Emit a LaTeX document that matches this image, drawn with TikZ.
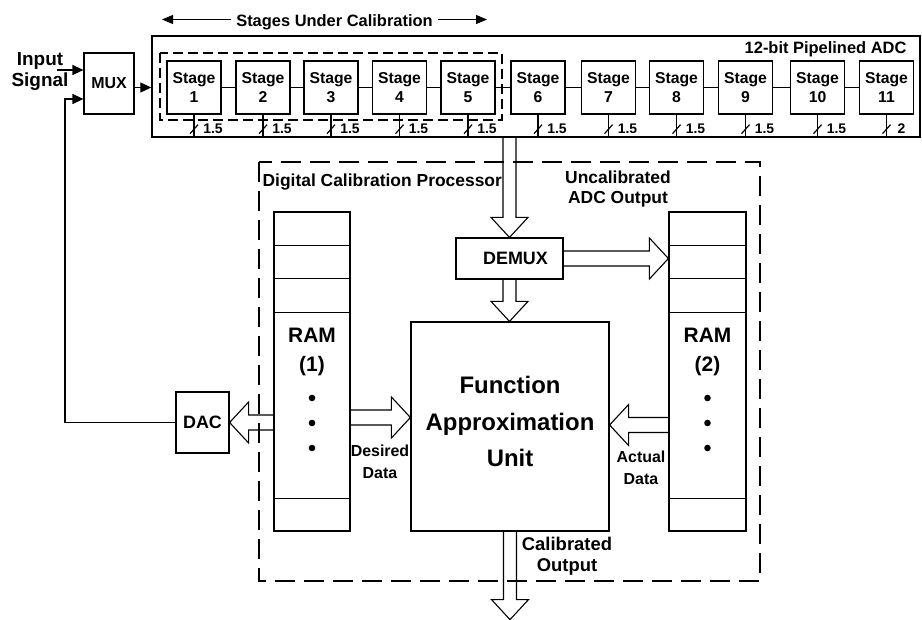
\documentclass[tikz,border=0pt]{standalone}
\usepackage{fontspec}
\setmainfont{Liberation Sans}
\usetikzlibrary{arrows.meta,calc}
\newcommand\fs[2]{\fontsize{#1}{#2}\selectfont}
\newcommand\blkD[2]{\draw[blk] let \p1=(#1),\p2=(#2) in (\x1-6.5bp,\y1) -- (\x1-6.5bp,\y2+20bp) -- (\x1-18.5bp,\y2+20bp) -- (\x1,\y2) -- (\x1+18.5bp,\y2+20bp) -- (\x1+6.5bp,\y2+20bp) -- (\x1+6.5bp,\y1);}
\newcommand\blkR[2]{\draw[blk] let \p1=(#1),\p2=(#2) in (\x1,\y1+7.5bp) -- (\x2-19bp,\y1+7.5bp) -- (\x2-19bp,\y1+20.5bp) -- (\x2,\y1) -- (\x2-19bp,\y1-20.5bp) -- (\x2-19bp,\y1-7.5bp) -- (\x1,\y1-7.5bp);}
\newcommand\blkL[2]{\draw[blk] let \p1=(#1),\p2=(#2) in (\x1,\y1+7.5bp) -- (\x2+19bp,\y1+7.5bp) -- (\x2+19bp,\y1+20.5bp) -- (\x2,\y1) -- (\x2+19bp,\y1-20.5bp) -- (\x2+19bp,\y1-7.5bp) -- (\x1,\y1-7.5bp);}
\begin{document}
\begin{tikzpicture}[x=1bp,y=-1bp,line width=1.2bp,
  every node/.style={font=\bfseries, inner sep=0pt},
  stagebox/.style={draw, minimum width=54bp, minimum height=53bp, align=center, font=\bfseries\fs{15.8}{18.5}},
  arrowtip/.style={-{Triangle[length=11bp,width=10bp]}},
  thintip/.style={-{Triangle[length=11bp,width=9bp]}, line width=1bp},
  blk/.style={draw, line width=1.1bp, line join=miter},
  grpdash/.style={dash pattern=on 10bp off 5bp, line width=1.2bp},
  dcpdash/.style={dash pattern=on 20bp off 9bp, line width=2.3bp},
  bits/.style={font=\bfseries\fs{14}{16}}
]
\useasboundingbox (0,0) rectangle (922,620);

% ---- pipelined ADC ----
\node[draw, line width=1.4bp, minimum width=768bp, minimum height=101bp] (adc) at (536,86.5) {};
\node[anchor=base east, font=\bfseries\fs{16.5}{20}] (adctitle) at (907,54) {12-bit Pipelined ADC};
\foreach \i/\x in {1/194,2/263,3/331,4/399.5,5/468,6/538,7/608.5,8/676.5,9/745.5,10/817.5,11/886.5}
  \node[stagebox] (s\i) at (\x,87.5) {Stage\\\i};
\foreach \i [evaluate=\i as \j using int(\i+1)] in {1,...,10}
  \draw (s\i.east) -- (s\j.west);
\foreach \i in {1,...,11}{
  \coordinate (b\i) at (s\i.south |- adc.south);
  \draw (s\i.south) -- (b\i);
  \draw ([shift={(-4,-4)}]b\i) -- ++(8,-9);
}
\foreach \i in {1,...,10}
  \node[bits] at ([shift={(19,-9)}]b\i) {1.5};
\node[bits] at ([shift={(15,-9)}]b11) {2};
\draw[grpdash] (160,53) rectangle (502,120);

\node[anchor=base, font=\bfseries\fs{16.5}{20}, inner xsep=5bp] (suc) at (334.5,27) {Stages Under Calibration};
\coordinate (sucL) at (162,19.5);
\coordinate (sucR) at (487,19.5);
\draw[thintip] (suc.west |- sucL) -- (sucL);
\draw[thintip] (suc.east |- sucR) -- (sucR);

% ---- MUX and input ----
\node[draw, minimum width=50bp, minimum height=61bp, font=\bfseries\fs{16}{19}] (mux) at (109,83.5) {MUX};
\node[align=center, font=\bfseries\fs{19}{22}] (insig) at (40,71.5) {Input\\Signal};
\coordinate (inS) at (57,70);
\draw[arrowtip] (inS) -- (inS -| mux.west);
\draw[arrowtip] (mux.east |- s1) -- (adc.west |- s1);

% ---- calibration processor ----
\node[anchor=base west, font=\bfseries\fs{17.5}{20}] (dcptitle) at (262,187) {Digital Calibration Processor};
\node[align=center, font=\bfseries\fs{17.5}{20}] (uncal) at (618,189) {Uncalibrated\\ADC Output};

\node[draw, minimum width=107bp, minimum height=41bp, font=\bfseries\fs{18}{21}] (demux) at (509.5,258.5) {\hspace*{12bp}DEMUX};
\node[draw, minimum width=198bp, minimum height=209bp] (fau) at (510,426.5) {};
\node[align=center, font=\bfseries\fs{24}{36.5}] (fautxt) at (510,421.5) {Function\\Approximation\\Unit};

\node[draw, minimum width=76bp, minimum height=319bp] (ram1) at (312,371.5) {};
\node[draw, minimum width=77bp, minimum height=319bp] (ram2) at (707.5,371.5) {};
\foreach \r in {ram1,ram2}{
  \foreach \o in {34,67,101}
    \draw ([yshift=-\o bp]\r.north west) -- ([yshift=-\o bp]\r.north east);
  \draw ([yshift=33bp]\r.south west) -- ([yshift=33bp]\r.south east);
}
\node[align=center, font=\bfseries\fs{21}{29}] (ram1txt) at (312,352) {RAM\\(1)};
\node[align=center, font=\bfseries\fs{21}{29}] (ram2txt) at (707.5,352) {RAM\\(2)};
\foreach \y in {398,423,448}{
  \fill (312,\y) circle (3.3bp);
  \fill (707.5,\y) circle (3.3bp);
}

\node[draw, minimum width=53bp, minimum height=61bp, font=\bfseries\fs{18}{21}] (dac) at (202.5,422.5) {DAC};
\coordinate (fb) at (65,99);
\draw[arrowtip] (dac.west) -| (fb) -- (fb -| mux.west);

\node[align=center, font=\bfseries\fs{16}{22}] (des) at (380,462) {Desired\\Data};
\node[align=center, font=\bfseries\fs{16}{22}] (act) at (641,468) {Actual\\Data};
\node[align=center, font=\bfseries\fs{18.5}{21}] (calo) at (567,556) {Calibrated\\Output};

% ---- block arrows ----
\blkD{demux.north |- adc.south}{demux.north}
\blkD{demux.south}{fau.north}
\blkR{demux.east}{demux.east -| ram2.west}
\blkL{ram1.west |- dac.east}{dac.east}
\coordinate (dd) at ([yshift=9bp]fau.west);
\blkR{dd -| ram1.east}{dd}
\coordinate (ad) at ([yshift=1.5bp]fau.east);
\blkL{ad -| ram2.west}{ad}
\coordinate (calout) at ($(fau.south)+(0,88)$);
\blkD{fau.south}{calout}

\draw[dcpdash] (259,162) rectangle (760,581);
\end{tikzpicture}
\end{document}
